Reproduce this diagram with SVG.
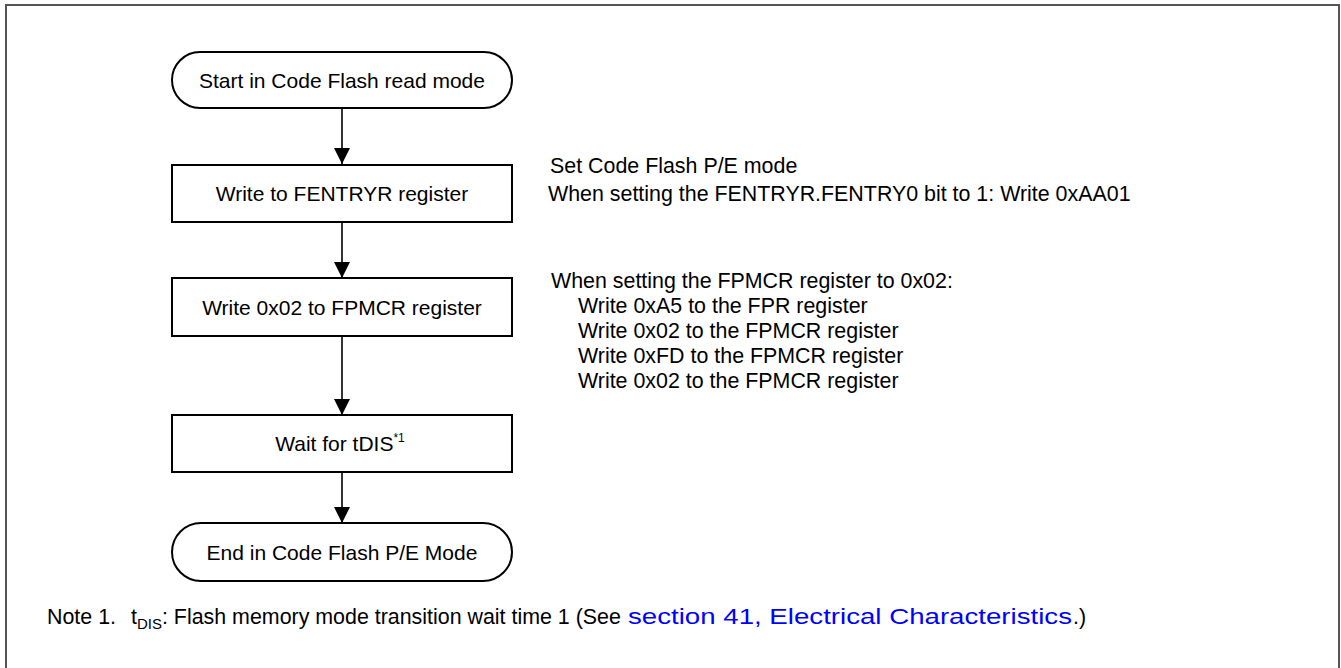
<svg xmlns="http://www.w3.org/2000/svg" width="1341" height="668" viewBox="0 0 1341 668">
<defs>
<style>
.t{font-family:"Liberation Sans",Arial,sans-serif;font-size:21px;fill:#000}
.s{font-size:21.4px}
.c{text-anchor:middle}
.box{fill:#fff;stroke:#000;stroke-width:2}
.ln{stroke:#000;stroke-width:1.6;fill:none}
.link{fill:#0000ff}
</style>
<marker id="ah" viewBox="0 0 16 16" refX="16" refY="8" markerWidth="16" markerHeight="16" markerUnits="userSpaceOnUse" orient="auto">
<path d="M0,0 L16,8 L0,16 Z" fill="#000"/>
</marker>
</defs>
<rect width="1341" height="668" fill="#fff"/>
<path d="M6,680 V5 H1339 V680" fill="none" stroke="#555" stroke-width="2"/>

<g id="connectors">
<line class="ln" x1="342" y1="108" x2="342" y2="164" marker-end="url(#ah)"/>
<line class="ln" x1="342" y1="222" x2="342" y2="278" marker-end="url(#ah)"/>
<line class="ln" x1="342" y1="336" x2="342" y2="415" marker-end="url(#ah)"/>
<line class="ln" x1="342" y1="472" x2="342" y2="523" marker-end="url(#ah)"/>
</g>

<g id="start">
<rect class="box" x="172" y="52" width="340" height="56" rx="28"/>
<text class="t c" x="342" y="88">Start in Code Flash read mode</text>
</g>
<g id="fentryr">
<rect class="box" x="172" y="165" width="340" height="57"/>
<text class="t c" x="342" y="201">Write to FENTRYR register</text>
</g>
<g id="fpmcr">
<rect class="box" x="172" y="278" width="340" height="58"/>
<text class="t c" x="342" y="315">Write 0x02 to FPMCR register</text>
</g>
<g id="wait">
<rect class="box" x="172" y="415" width="340" height="57"/>
<text class="t c" x="340" y="451">Wait for tDIS<tspan font-size="12" dy="-9">*1</tspan></text>
</g>
<g id="end">
<rect class="box" x="172" y="523" width="340" height="58" rx="29"/>
<text class="t c" x="342" y="560">End in Code Flash P/E Mode</text>
</g>

<g id="notes-fentryr">
<text class="t s" x="550" y="173">Set Code Flash P/E mode</text>
<text class="t s" x="548" y="201">When setting the FENTRYR.FENTRY0 bit to 1: Write 0xAA01</text>
</g>
<g id="notes-fpmcr">
<text class="t s" x="551" y="288">When setting the FPMCR register to 0x02:</text>
<text class="t s" x="578" y="313">Write 0xA5 to the FPR register</text>
<text class="t s" x="578" y="338">Write 0x02 to the FPMCR register</text>
<text class="t s" x="578" y="363">Write 0xFD to the FPMCR register</text>
<text class="t s" x="578" y="388">Write 0x02 to the FPMCR register</text>
</g>
<g id="footnote">
<text class="t s" x="47" y="624">Note 1.<tspan x="131">t</tspan><tspan font-size="15" dy="5">DIS</tspan><tspan dy="-5">: Flash memory mode transition wait time 1 (See</tspan></text>
<text class="t s link" x="628" y="624" textLength="444" lengthAdjust="spacingAndGlyphs">section 41, Electrical Characteristics</text>
<text class="t s" x="1073" y="624">.)</text>
</g>
</svg>
